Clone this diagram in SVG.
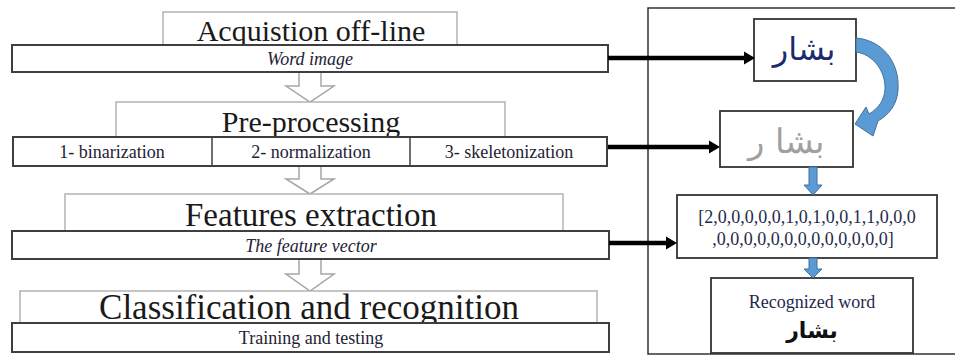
<svg xmlns="http://www.w3.org/2000/svg" width="955" height="356" viewBox="0 0 955 356">
  <style>
    .stage { fill: #ffffff; stroke: #b3b3b3; stroke-width: 1.5; }
    .bar { fill: #ffffff; stroke: #3f3f3f; stroke-width: 2; }
    .title { font-family: "Liberation Serif", "Times New Roman", serif; fill: #1a1a1a; text-anchor: middle; }
    .sub { font-family: "Liberation Serif", "Times New Roman", serif; fill: #1e2233; text-anchor: middle; font-size: 18px; }
    .it { font-style: italic; }
    .down { fill: #ffffff; stroke: #a6a6a6; stroke-width: 1.5; stroke-linejoin: miter; }
    .link { stroke: #000000; stroke-width: 4.5; fill: none; }
    .head { fill: #000000; }
    .panel { fill: none; stroke: #333333; stroke-width: 1.5; }
    .box { fill: #ffffff; stroke: #333333; stroke-width: 1.8; }
    .blue { fill: #5b9bd5; stroke: #41719c; stroke-width: 1; }
    .vec { font-family: "Liberation Serif", "Times New Roman", serif; fill: #1f2a4a; text-anchor: middle; font-size: 18px; }
    .ar { font-family: "DejaVu Sans", sans-serif; text-anchor: middle; }
  </style>

  <!-- right-hand panel -->
  <rect class="panel" x="648" y="8" width="330" height="346"/>

  <!-- hollow down arrows between stages -->
  <g id="flow-arrows">
    <path class="down" d="M299 72 L321 72 L321 86 L334 86 L310 102 L286 86 L299 86 Z"/>
    <path class="down" d="M299 166 L321 166 L321 179 L334 179 L310 194 L286 179 L299 179 Z"/>
    <path class="down" d="M299 259 L321 259 L321 274 L334 274 L310 291 L286 274 L299 274 Z"/>
  </g>

  <!-- stage 1 -->
  <g id="acquisition">
    <rect class="stage" x="163" y="12" width="294" height="40"/>
    <text class="title" x="311" y="41" font-size="30">Acquistion off-line</text>
    <rect class="bar" x="12" y="45" width="596" height="27"/>
    <text class="sub it" x="310" y="65">Word image</text>
  </g>

  <!-- stage 2 -->
  <g id="preprocessing">
    <rect class="stage" x="116" y="102" width="389" height="40"/>
    <text class="title" x="311" y="132" font-size="30">Pre-processing</text>
    <rect class="bar" x="13" y="137" width="594" height="29"/>
    <line x1="212" y1="137" x2="212" y2="166" stroke="#3f3f3f" stroke-width="1.5"/>
    <line x1="410" y1="137" x2="410" y2="166" stroke="#3f3f3f" stroke-width="1.5"/>
    <text class="sub" x="112" y="158">1- binarization</text>
    <text class="sub" x="311" y="158">2- normalization</text>
    <text class="sub" x="509" y="158">3- skeletonization</text>
  </g>

  <!-- stage 3 -->
  <g id="features">
    <rect class="stage" x="65" y="194" width="498" height="42"/>
    <text class="title" x="311" y="226" font-size="33">Features extraction</text>
    <rect class="bar" x="12" y="231" width="597" height="28"/>
    <text class="sub it" x="311" y="252">The feature vector</text>
  </g>

  <!-- stage 4 -->
  <g id="classification">
    <rect class="stage" x="20" y="291" width="577" height="37"/>
    <text class="title" x="309" y="319" font-size="35">Classification and recognition</text>
    <rect class="bar" x="12" y="323" width="597" height="29"/>
    <text class="sub" x="311" y="344" font-size="19">Training and testing</text>
  </g>

  <!-- word image -->
  <g id="word-image">
    <rect class="box" x="754" y="19" width="102" height="62"/>
    <text class="ar" x="804" y="60" font-size="32" fill="#1c2a6e">بشار</text>
  </g>

  <!-- skeleton image -->
  <g id="skeleton-image">
    <rect class="box" x="720" y="111" width="133" height="56"/>
    <text class="ar" x="786" y="153" font-size="34" font-weight="200" fill="#a0a0a0">بشا ر</text>
  </g>

  <!-- feature vector -->
  <g id="vector">
    <rect class="box" x="677" y="195" width="260" height="63"/>
    <text class="vec" x="807" y="223">[2,0,0,0,0,0,1,0,1,0,0,1,1,0,0,0</text>
    <text class="vec" x="803" y="245">,0,0,0,0,0,0,0,0,0,0,0,0,0]</text>
  </g>

  <!-- recognized word -->
  <g id="result">
    <rect class="box" x="711" y="278" width="202" height="75"/>
    <text class="vec" x="812" y="308" font-size="20" fill="#1a1a1a">Recognized word</text>
    <text class="ar" x="812" y="338" font-size="22" font-weight="bold" fill="#111111">بشار</text>
  </g>

  <!-- connectors -->
  <g id="connectors">
    <line class="link" x1="608" y1="58" x2="746" y2="58"/>
    <polygon class="head" points="744,51.5 755,58 744,64.5"/>
    <line class="link" x1="608" y1="147" x2="711" y2="147"/>
    <polygon class="head" points="709,140.5 720,147 709,153.5"/>
    <line class="link" x1="609" y1="243" x2="668" y2="243"/>
    <polygon class="head" points="666,236.5 677,243 666,249.5"/>

    <path class="blue" d="M856 38 C882 40 900 62 898 90 C897 104 890 114 878 121 L873 136 L855 124 L866 107 L869 114 C879 108 884 100 885 90 C886 70 872 54 856 52 Z"/>
    <path class="blue" d="M809 167 L817 167 L817 185 L822 185 L813 195 L804 185 L809 185 Z"/>
    <path class="blue" d="M809 258 L817 258 L817 269 L822 269 L813 278 L804 269 L809 269 Z"/>
  </g>
</svg>
